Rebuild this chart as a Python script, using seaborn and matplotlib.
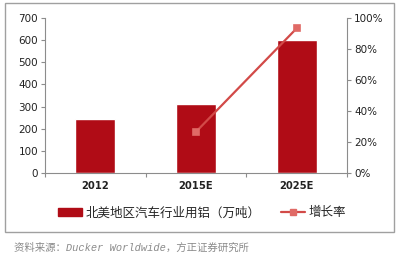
import matplotlib
matplotlib.use("Agg")
import matplotlib.pyplot as plt
import seaborn as sns
import numpy as np
import pandas as pd
from matplotlib.patches import Rectangle, Patch
from matplotlib.lines import Line2D

years = ["2012", "2015E", "2025E"]
aluminum = [245, 310, 600]          # 万吨
growth = [np.nan, 0.265, 0.935]     # 增长率

bar_label = "北美地区汽车行业用铝（万吨）"
line_label = "增长率"
source = "资料来源：Ducker Worldwide，方正证券研究所"

sns.set_theme(style="white")
plt.rcParams['font.family'] = ['DejaVu Sans', 'Noto Sans CJK SC']

bar_color = "#B00C16"
line_color = "#D24A48"
marker_color = "#E06A66"
gray = "#8C8C8C"

fig = plt.figure(figsize=(4.0, 2.58), dpi=100)
fig.patch.set_facecolor("white")
fig.patches.append(Rectangle((0.0125, 0.1008), 0.9725, 0.8876, transform=fig.transFigure,
                             fill=False, edgecolor="#A0A0A0", linewidth=1.0))

ax = fig.add_axes([0.1125, 0.3306, 0.755, 0.5985])
df = pd.DataFrame({"year": years, "alu": aluminum, "g": growth})
sns.barplot(data=df, x="year", y="alu", color=bar_color, width=0.4, ax=ax, saturation=1)
ax.set_xlim(-0.5, 2.5)
ax.set_ylim(0, 700)
ax.set_yticks(range(0, 701, 100))
ax.set_xlabel("")
ax.set_ylabel("")
ax.tick_params(axis="y", labelsize=7.5, colors="#222222", length=3, width=0.8, direction="out", left=True, pad=2)
for t in ax.get_yticklabels():
    t.set_color("#222222")
ax.tick_params(axis="x", labelsize=7.2, length=0, pad=6)
for t in ax.get_xticklabels():
    t.set_fontweight("bold")
    t.set_color("#222222")
ax.set_xticks([-0.5, 0.5, 1.5, 2.5], minor=True)
ax.tick_params(axis="x", which="minor", length=3, width=0.8, color=gray, bottom=True)
ax.tick_params(axis="y", color=gray)
for s in ["top", "right"]:
    ax.spines[s].set_visible(False)
for s in ["left", "bottom"]:
    ax.spines[s].set_color(gray)
    ax.spines[s].set_linewidth(0.8)

ax2 = ax.twinx()
sns.pointplot(data=df, x="year", y="g", ax=ax2, color=line_color, markers="s",
              markersize=5, linewidth=1.6, errorbar=None)
for ln in ax2.lines:
    ln.set_markerfacecolor(marker_color)
    ln.set_markeredgecolor(marker_color)
ax2.set_xlim(-0.5, 2.5)
ax2.set_ylim(0, 1.0)
ax2.set_yticks(np.arange(0, 1.01, 0.2))
ax2.set_yticklabels([f"{int(round(v*100))}%" for v in np.arange(0, 1.01, 0.2)])
ax2.set_ylabel("")
ax2.tick_params(axis="y", labelsize=7.5, length=3, width=0.8, color=gray, labelcolor="#222222", right=True, pad=2)
for s in ["top", "left", "bottom"]:
    ax2.spines[s].set_visible(False)
ax2.spines["right"].set_color(gray)
ax2.spines["right"].set_linewidth(0.8)

handles = [Patch(facecolor=bar_color, edgecolor=bar_color),
           Line2D([0], [0], color=line_color, lw=1.6, marker="s", markersize=5,
                  markerfacecolor=marker_color, markeredgecolor=marker_color)]
fig.legend(handles, [bar_label, line_label], loc="center", bbox_to_anchor=(0.505, 0.175),
           ncol=2, frameon=False, handlelength=1.9, handleheight=0.55,
           columnspacing=1.6, handletextpad=0.3,
           prop={"family": ["Noto Sans CJK SC"], "size": 9})

fig.text(0.035, 0.04, source, fontsize=7.5, color="#8A8A8A", style="italic",
         family=["Liberation Mono", "Noto Sans CJK SC"], va="center", ha="left")

fig.savefig("out.png", dpi=100, facecolor="white")
